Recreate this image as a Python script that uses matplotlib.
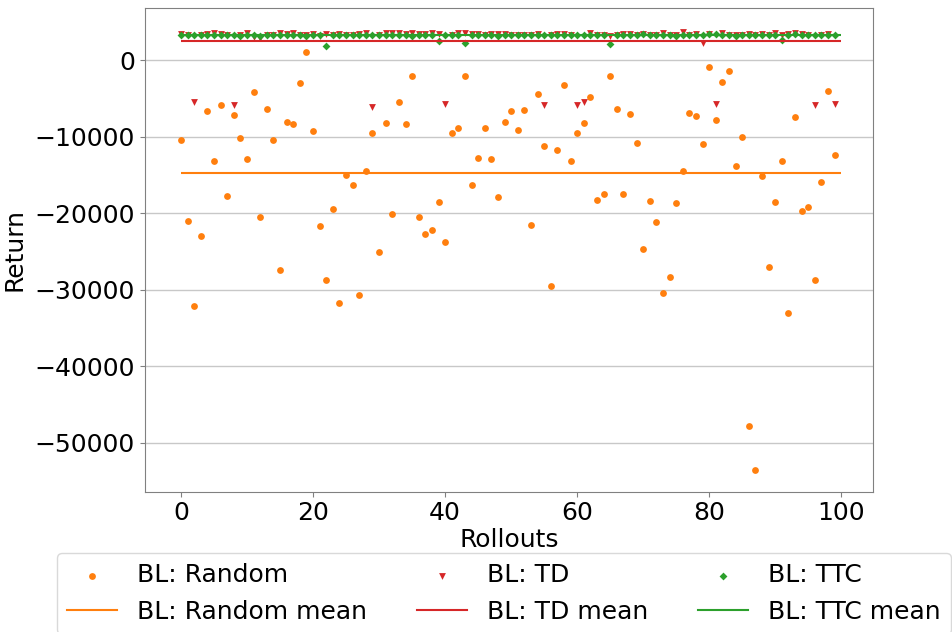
import numpy as np
import matplotlib
matplotlib.use("Agg")
import matplotlib.pyplot as plt
from matplotlib.lines import Line2D

plt.rcParams['font.family'] = ['DejaVu Sans']
plt.rcParams['font.size'] = 18

# ---------------- data ----------------
rollouts = np.arange(100)

random_returns = [
    -10400, -21000, -32100, -23000, -6660, -13150, -5880, -17760, -7140, -10140,
    -12890, -4100, -20550, -6400, -10450, -27380, -8010, -8360, -2920, 1040,
    -9190, -21670, -28770, -19450, -31730, -15010, -16370, -30730, -14540, -9490,
    -25070, -8230, -20160, -5490, -8270, -2050, -20500, -22680, -22150, -18590,
    -23760, -9490, -8920, -2000, -16370, -12840, -8920, -12970, -17940, -8100,
    -6580, -9100, -6490, -21540, -4400, -11190, -29500, -11670, -3260, -13190,
    -9490, -8190, -4830, -18330, -17450, -2090, -6400, -17450, -7010, -10880,
    -24630, -18410, -21110, -30420, -28290, -18670, -14490, -6840, -7270, -10970,
    -830, -7750, -2830, -1400, -13800, -10010, -47870, -53580, -15140, -27070,
    -18540, -13150, -33080, -7400, -19710, -19190, -28770, -15930, -4050, -12400,
]

td_returns = [
    3400, 3300, -5400, 3250, 3450, 3500, 3400, 3350, -5790, 3300,
    3550, 3100, 2950, 3350, 3300, 3500, 3400, 3550, 3300, 3250,
    3400, 3200, 3450, 3300, 3400, 3350, 3300, 3450, 3500, -6050,
    3350, 3500, 3550, 3500, 3450, 3500, 3400, 3450, 3500, 3450,
    -5750, 3350, 3500, 3550, 3450, 3400, 3350, 3450, 3450, 3400,
    3300, 3350, 3300, 3350, 3400, -5880, 3350, 3400, 3450, 3300,
    -5880, -5490, 3500, 3300, 3350, 3200, 3350, 3400, 3450, 3350,
    3400, 3300, 3350, 3500, 3250, 3350, 3650, 3300, 3400, 2300,
    3450, -5710, 3550, 3350, 3300, 3350, 3450, 3300, 3450, 3300,
    3550, 3350, 3450, 3550, 3400, 3350, -5880, 3350, 3450, -5750,
]

ttc_returns = [
    3300, 3250, 3350, 3300, 3250, 3300, 3350, 3250, 3300, 3200,
    3300, 3350, 3150, 3250, 3300, 3350, 3300, 3250, 3300, 3200,
    3300, 3350, 1900, 3300, 3250, 3300, 3350, 3300, 3250, 3300,
    3250, 3300, 3350, 3300, 3250, 3200, 3300, 3350, 3300, 2520,
    3300, 3250, 3300, 2260, 3350, 3300, 3250, 3300, 3200, 3300,
    3250, 3300, 3350, 3300, 3250, 3300, 3350, 3300, 3250, 3350,
    3300, 3250, 3300, 3350, 3300, 2090, 3300, 3350, 3300, 3250,
    3400, 3300, 3250, 3300, 3350, 3200, 3300, 3250, 3350, 3300,
    3400, 3450, 3300, 3250, 3200, 3300, 3250, 3300, 3350, 3300,
    3350, 2610, 3350, 3400, 3300, 3250, 3350, 3250, 3300, 3300,
]

names = ["BL: Random", "BL: TD", "BL: TTC"]
colors = ["#ff7f0e", "#d62728", "#2ca02c"]
markers = ["o", "v", "D"]
all_returns = [random_returns, td_returns, ttc_returns]

# ---------------- figure ----------------
fig = plt.figure(figsize=(9.52, 6.32), dpi=100)
ax = fig.add_axes([0.152, 0.222, 0.765, 0.765])

leg_handles, leg_labels = [], []
for name, vals, col, mk in zip(names, all_returns, colors, markers):
    sc = ax.scatter(rollouts, vals, s=24 if mk != "D" else 16, c=col,
                    marker=mk, linewidths=0, zorder=3)
    ax.hlines(np.mean(vals), 0, 100, colors=col, linewidth=1.5, zorder=4)
    # legend is filled column by column: marker on top, mean line below
    leg_handles += [sc, Line2D([], [], color=col, linewidth=1.5)]
    leg_labels += [name, name + " mean"]

ax.set_xlabel("Rollouts", labelpad=2)
ax.set_ylabel("Return", labelpad=6)
ax.set_xlim(-5.5, 104.8)
ax.set_ylim(-56400, 6800)
ax.set_xticks([0, 20, 40, 60, 80, 100])
ax.set_yticks([0, -10000, -20000, -30000, -40000, -50000])

ax.grid(axis="y", color="#c8c8c8", linewidth=1)
ax.set_axisbelow(True)
for sp in ax.spines.values():
    sp.set_color("#808080")
ax.tick_params(color="#808080")

fig.legend(leg_handles, leg_labels, ncol=3, loc="upper left",
           bbox_to_anchor=(0.047, 0.144), bbox_transform=fig.transFigure,
           frameon=True, edgecolor="#d0d0d0")

fig.savefig("out.png", dpi=100)
